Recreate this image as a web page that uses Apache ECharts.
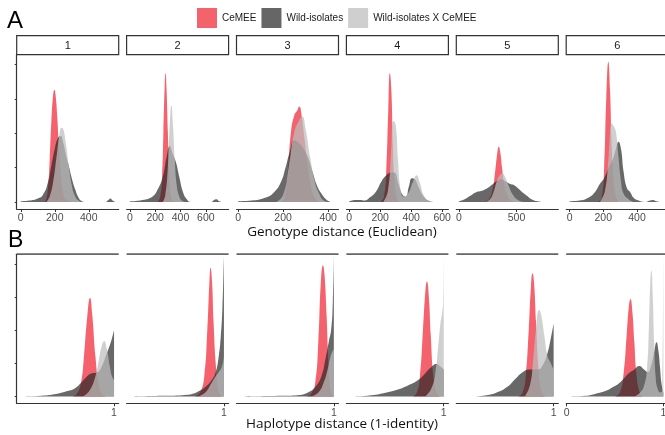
<!DOCTYPE html>
<html>
<head>
<meta charset="utf-8">
<script src="https://cdn.jsdelivr.net/npm/echarts@6/dist/echarts.min.js"></script>
<style>
  html, body { margin: 0; padding: 0; background: #fff; }
  #chart { width: 665px; height: 435px; }
</style>
</head>
<body>
<div id="chart"></div>
<script>
// Facet labels and series names
const facetLabels = ['1', '2', '3', '4', '5', '6'];
const seriesNames = ['CeMEE', 'Wild-isolates', 'Wild-isolates X CeMEE'];

// Row A: genotype distance (Euclidean) densities, one list of [distance, density] per facet
const genoCemee = [
  [[140,0],[150,2],[160,10],[170,30],[180,58],[190,76],[198,80],[205,76],[215,60],[225,38],[235,20],[250,6],[270,1],[290,0]],
  [[220,0],[240,4],[255,20],[265,50],[275,83],[282,92],[290,80],[300,50],[310,22],[320,7],[335,1],[350,0]],
  [[190,0],[205,3],[220,20],[235,50],[250,62],[262,65],[272,68],[282,62],[295,45],[310,25],[325,10],[340,3],[360,0]],
  [[200,0],[225,4],[240,25],[252,65],[262,92],[272,80],[282,40],[292,15],[305,4],[320,0]],
  [[220,0],[260,2],[290,8],[315,22],[335,36],[345,39.5],[360,35],[375,24],[395,12],[420,5],[450,1],[480,0]],
  [[170,0],[190,3],[205,25],[218,75],[230,100],[240,80],[250,40],[262,14],[275,4],[290,0]]
];
const genoWild = [
  [[0,0.5],[50,1],[100,2.5],[130,5],[160,14],[180,26],[200,38],[220,46],[235,47],[250,42],[265,34],[280,27],[300,17],[320,9],[340,3],[360,0.5],[380,0],[495,0],[515,1.5],[528,2.5],[540,1],[555,0]],
  [[0,0.5],[100,1.5],[180,4],[220,9],[260,18],[290,32],[315,40],[340,34],[365,28],[390,18],[420,7],[450,2],[480,0],[640,0],[665,1.5],[685,2],[705,0.5],[725,0]],
  [[0,0.5],[60,1],[120,3],[160,7],[190,14],[210,24],[230,36],[250,44],[270,42],[290,38],[310,32],[330,22],[350,12],[370,6],[390,2],[410,0]],
  [[0,0.5],[40,1.5],[70,1.5],[100,1],[130,3],[170,7],[210,15],[240,19],[270,21],[290,21],[320,12],[345,5],[365,4],[385,11],[405,17],[425,16],[450,10],[480,4],[510,1],[540,0]],
  [[0,0.5],[50,2],[100,4.5],[150,7],[200,8],[250,10],[290,12.5],[330,15],[365,16],[400,15],[440,13],[480,12],[510,10],[550,7],[590,4.5],[630,2],[680,0.5],[720,0]],
  [[0,0.5],[60,1],[110,3],[150,7],[180,13],[205,17],[230,24],[255,30],[275,38],[290,43],[305,38],[320,22],[340,10],[360,7],[380,3],[410,1],[450,0],[475,1],[495,1.5],[515,0.5],[535,0]]
];
const genoCross = [
  [[150,0],[170,4],[190,14],[210,32],[225,46],[240,53],[250,52],[265,42],[280,28],[300,12],[320,4],[340,1],[360,0]],
  [[260,0],[280,5],[300,25],[315,55],[328,69],[340,55],[355,30],[370,12],[390,4],[410,1],[430,0]],
  [[170,0],[200,5],[225,25],[250,50],[270,58],[285,61],[300,52],[320,32],[340,15],[360,6],[380,1],[400,0]],
  [[220,0],[250,8],[270,35],[285,58],[300,55],[315,30],[330,10],[350,4],[380,6],[410,14],[435,19],[455,14],[480,5],[510,1],[540,0]],
  [[230,0],[270,2],[300,7],[330,15],[355,19],[375,20.5],[400,18],[430,12],[470,5],[520,1],[560,0]],
  [[180,0],[210,8],[230,30],[250,56],[262,54],[275,50],[290,32],[305,15],[320,6],[350,2],[380,0]]
];

// Row B: haplotype distance (1-identity) densities
const haploCemee = [
  [[0.6,0],[0.64,2],[0.68,10],[0.71,30],[0.74,58],[0.768,73],[0.79,60],[0.82,30],[0.85,10],[0.88,2],[0.92,0]],
  [[0.72,0],[0.77,3],[0.81,15],[0.84,50],[0.86,85],[0.871,95],[0.885,85],[0.9,55],[0.92,25],[0.94,8],[0.96,2],[0.98,0]],
  [[0.74,0],[0.78,2],[0.82,10],[0.85,40],[0.875,85],[0.895,97],[0.91,90],[0.93,60],[0.945,30],[0.96,10],[0.98,2],[1.0,0]],
  [[0.7,0],[0.74,3],[0.77,15],[0.8,50],[0.825,80],[0.838,85],[0.855,75],[0.875,45],[0.9,15],[0.93,3],[0.96,0]],
  [[0.66,0],[0.7,3],[0.73,15],[0.76,50],[0.78,80],[0.796,91],[0.81,85],[0.83,55],[0.85,25],[0.87,8],[0.9,1],[0.93,0]],
  [[0.5,0],[0.55,3],[0.59,18],[0.62,45],[0.645,68],[0.66,72],[0.68,62],[0.7,40],[0.72,18],[0.75,4],[0.78,0]]
];
const haploWild = [
  [[0.1,0],[0.3,0.5],[0.45,2],[0.55,4],[0.62,6],[0.68,10],[0.74,15],[0.78,17],[0.84,18],[0.88,22],[0.92,30],[0.96,38],[0.98,43],[1.0,49]],
  [[0.1,0],[0.4,0.5],[0.6,1],[0.7,2],[0.76,4],[0.82,7],[0.88,12],[0.92,18],[0.95,30],[0.97,45],[0.985,65],[0.995,90],[1.0,104]],
  [[0.1,0],[0.5,0.5],[0.65,1],[0.75,3],[0.82,7],[0.88,15],[0.92,28],[0.95,40],[0.975,50],[0.99,70],[1.0,104]],
  [[0.1,0],[0.3,1],[0.45,3],[0.55,5],[0.65,8],[0.75,12],[0.82,17],[0.87,21],[0.93,24],[0.97,22],[1.0,20]],
  [[0.2,0],[0.35,1],[0.45,3],[0.55,7],[0.63,13],[0.7,18],[0.77,20],[0.85,20],[0.9,24],[0.94,32],[0.97,42],[1.0,54]],
  [[0.0,0],[0.2,0.5],[0.3,2],[0.4,4],[0.48,7],[0.56,11],[0.64,17],[0.7,20],[0.75,22.5],[0.8,20],[0.84,18],[0.87,22],[0.9,31],[0.93,40],[0.95,33],[0.965,22],[0.98,10],[1.0,3]]
];
const haploCross = [
  [[0.7,0],[0.76,4],[0.82,15],[0.86,30],[0.88,37],[0.905,41],[0.93,35],[0.96,22],[0.98,15],[1.0,12]],
  [[0.75,0],[0.82,3],[0.88,10],[0.92,15],[0.95,18],[0.98,22],[1.0,30]],
  [[0.78,0],[0.85,3],[0.9,10],[0.94,20],[0.97,30],[1.0,35]],
  [[0.82,0],[0.88,6],[0.92,18],[0.95,40],[0.97,55],[0.985,62],[0.995,70],[1.0,104]],
  [[0.72,0],[0.77,8],[0.8,25],[0.83,50],[0.86,64],[0.88,60],[0.91,45],[0.94,30],[0.97,25],[1.0,20]],
  [[0.7,0],[0.76,3],[0.8,8],[0.83,20],[0.85,50],[0.865,85],[0.876,93],[0.89,75],[0.905,40],[0.92,15],[0.94,6],[0.97,3],[0.99,5],[1.0,104]]
];

// Axis ranges and tick labels per facet (free x scales)
const genoMin = [-24, -26, -7, -18, -22, -20];
const genoMax = [576, 780, 446, 640, 862, 585];
const genoTicks = [[0,200,400],[0,200,400,600],[0,200,400],[0,200,400,600],[0,500],[0,200,400]];
const haploMin = [0.06, 0.06, 0.06, 0.06, 0.06, -0.005];
const haploMax = [1.045, 1.045, 1.045, 1.045, 1.045, 1.05];
const haploTicks = [[1],[1],[1],[1],[1],[0,1]];

const fills = ['rgba(238,38,52,0.72)', 'rgba(40,40,40,0.7)', 'rgba(190,190,190,0.72)'];
const keyColors = ['#f4636c', '#666666', '#cfcfcf'];

const PANEL_W = 102, PANEL_STEP = 109.9, PANEL_X0 = 16.7;
const rowA = { top: 54.7, height: 154.3 };
const rowB = { top: 254.3, height: 149 };
const FONT = 'Liberation Sans, Arial, sans-serif';

const grids = [], xAxes = [], yAxes = [], series = [];
const graphics = [];

function addPanel(row, i, mins, maxs, ticks, data) {
  const idx = grids.length;
  const left = PANEL_X0 + i * PANEL_STEP;
  grids.push({ left: left, top: row.top, width: PANEL_W, height: row.height, outerBoundsMode: 'none' });
  xAxes.push({
    type: 'value', gridIndex: idx, min: mins[i], max: maxs[i],
    splitLine: { show: false },
    axisLine: { show: true, onZero: false, lineStyle: { color: '#333', width: 1.2 } },
    axisTick: { show: true, length: 3, customValues: ticks[i], lineStyle: { color: '#333', width: 1 } },
    axisLabel: { show: true, customValues: ticks[i], color: '#4d4d4d', fontSize: 10.5, fontFamily: FONT, margin: 4 }
  });
  yAxes.push({
    type: 'value', gridIndex: idx, min: -5, max: 105,
    show: i === 0,
    splitLine: { show: false },
    axisLine: { show: true, onZero: false, lineStyle: { color: '#333', width: 1.2 } },
    axisTick: { show: true, length: 2, customValues: [0, 24.5, 49, 73.5, 98], lineStyle: { color: '#333' } },
    axisLabel: { show: false }
  });
  data.forEach((d, s) => {
    series.push({
      name: seriesNames[s], type: 'line', xAxisIndex: idx, yAxisIndex: idx,
      data: d[i], showSymbol: false, smooth: 0.5,
      lineStyle: { width: 0, opacity: 0 },
      itemStyle: { color: keyColors[s] },
      areaStyle: { color: fills[s], opacity: 1 },
      silent: true, z: 2
    });
  });
  return left;
}

for (let i = 0; i < 6; i++) {
  const left = addPanel(rowA, i, genoMin, genoMax, genoTicks, [genoCemee, genoWild, genoCross]);
  // facet strip
  graphics.push({
    type: 'rect', shape: { x: left, y: 35.7, width: PANEL_W, height: 19 },
    style: { fill: '#fff', stroke: '#333', lineWidth: 1.2 }
  });
  graphics.push({
    type: 'text', x: left + PANEL_W / 2, y: 45.5,
    style: { text: facetLabels[i], fill: '#1a1a1a', font: '11px ' + FONT, align: 'center', verticalAlign: 'middle' }
  });
}
for (let i = 0; i < 6; i++) {
  const left = addPanel(rowB, i, haploMin, haploMax, haploTicks, [haploCemee, haploWild, haploCross]);
  // collapsed strip drawn as a rule above each panel
  graphics.push({
    type: 'rect', shape: { x: left, y: 253.3, width: PANEL_W, height: 1.8 },
    style: { fill: '#666' }
  });
}

// panel tags and axis titles
graphics.push({ type: 'text', x: 7, y: 9, style: { text: 'A', fill: '#000', font: '24px ' + FONT } });
graphics.push({ type: 'text', x: 8, y: 229, style: { text: 'B', fill: '#000', font: '23px ' + FONT } });
graphics.push({
  type: 'text', x: 342, y: 232.5,
  style: { text: 'Genotype distance (Euclidean)', fill: '#111', font: '13.5px "Open Sans", sans-serif', align: 'center', verticalAlign: 'middle' }
});
graphics.push({
  type: 'text', x: 342, y: 424,
  style: { text: 'Haplotype distance (1-identity)', fill: '#111', font: '13.5px "Open Sans", sans-serif', align: 'center', verticalAlign: 'middle' }
});

const chart = echarts.init(document.getElementById('chart'), null, { renderer: 'canvas' });
chart.setOption({
  animation: false,
  backgroundColor: '#fff',
  legend: {
    left: 192, top: 3, icon: 'rect', itemWidth: 20, itemHeight: 20, itemGap: 5,
    textStyle: { fontSize: 10, color: '#1a1a1a', fontFamily: FONT },
    data: seriesNames.map((n, s) => ({ name: n, itemStyle: { color: keyColors[s] } })),
    selectedMode: false
  },
  grid: grids,
  xAxis: xAxes,
  yAxis: yAxes,
  series: series,
  graphic: graphics
});
</script>
</body>
</html>
